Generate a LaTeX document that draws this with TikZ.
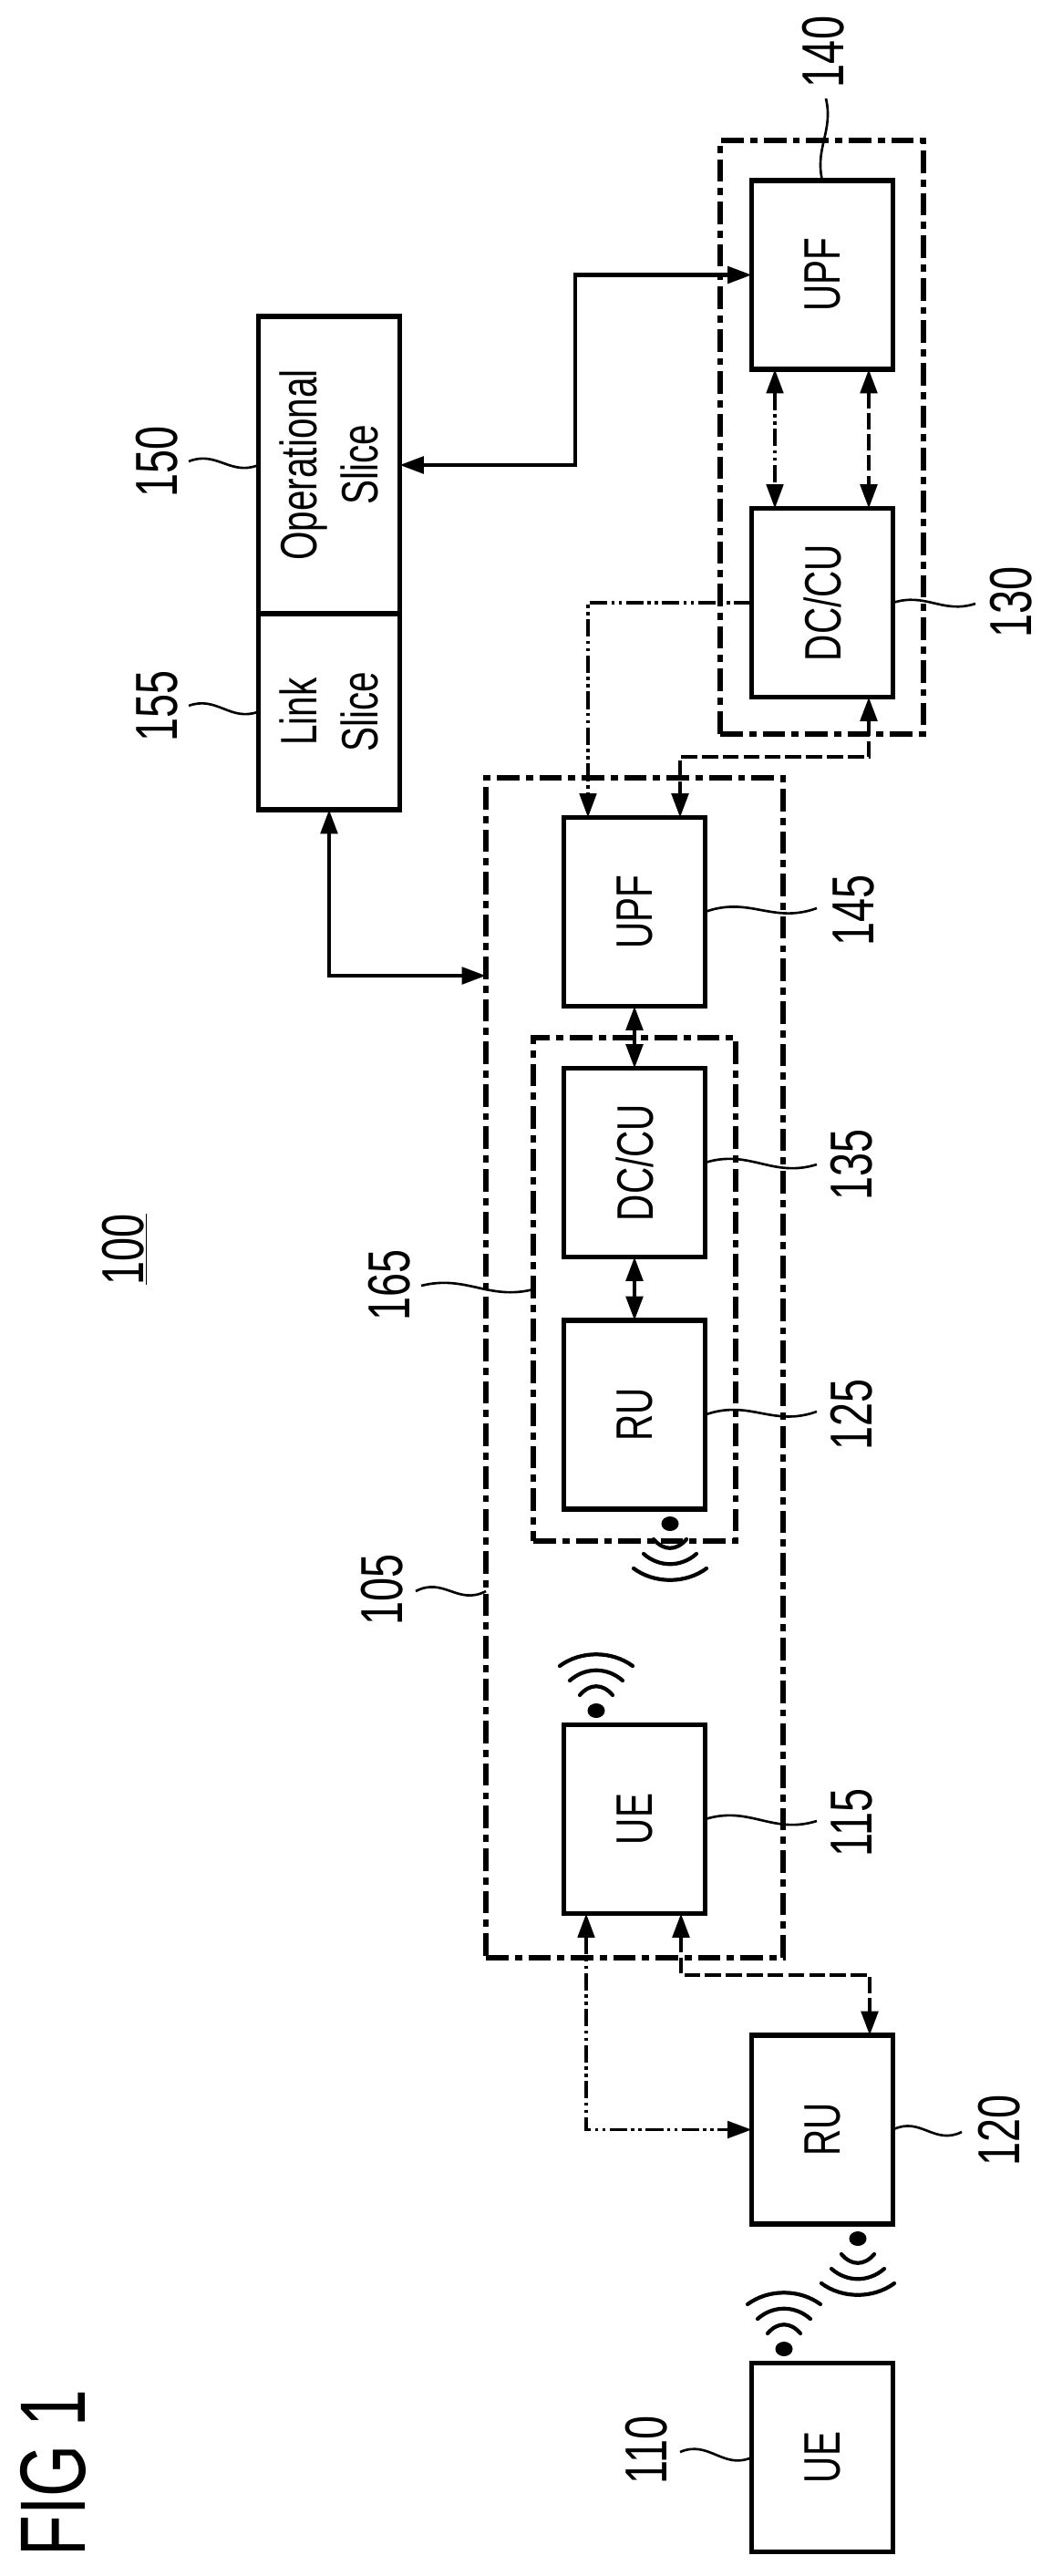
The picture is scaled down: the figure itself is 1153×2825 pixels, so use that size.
\documentclass[tikz,border=0pt]{standalone}
\usepackage{fontspec}
\setmainfont[FakeStretch=0.72]{Liberation Sans}
\usetikzlibrary{arrows.meta, calc}

\tikzset{
    >={Triangle[length=15pt,width=10.5pt]},
    unitbox/.style={draw, line width=3.1pt, outer sep=0pt, fill=white, minimum width=3.1cm, minimum height=4.14cm},
    unittext/.style={rotate=90, align=center, font=\fontsize{32}{38}\selectfont},
    reflabel/.style={rotate=90, inner sep=0pt, font=\fontsize{37}{44}\selectfont},
    groupbox/.style={draw, line width=3.2pt, outer sep=0pt, dash pattern=on 14pt off 4pt on 4.5pt off 4pt},
    linkline/.style={<->, line width=2.3pt},
    dashline/.style={<->, line width=2.3pt, dash pattern=on 10pt off 3pt},
    dotline/.style={line width=2pt, dash pattern=on 11pt off 2.5pt on 2pt off 2.5pt on 2pt off 2.5pt},
    leadline/.style={line width=1.5pt},
    radiosign/.pic={
        \fill (0,0) ellipse (9.5 and 8);
        \draw[line width=2.4pt, line cap=round] (-18,-17) .. controls (-7,-30) and (7,-30) .. (18,-17);
        \draw[line width=2.4pt, line cap=round] (-29,-33) .. controls (-12,-48) and (12,-48) .. (29,-33);
        \draw[line width=2.4pt, line cap=round] (-40,-49) .. controls (-17,-66) and (17,-66) .. (40,-49);
    }
}
\newcommand{\squig}[3]{\draw[leadline] (#1) .. controls ($(#1)!.4!(#2)+#3$) and ($(#1)!.6!(#2)-#3$) .. (#2);}

\begin{document}
\begin{tikzpicture}[x=0.02cm, y=-0.02cm]
    \useasboundingbox (0,0) rectangle (1153,2825);

    % Dashed groups
    \node[groupbox, minimum width=6.52cm, minimum height=25.88cm] (box105) at (696,1500) {};
    \node[groupbox, minimum width=4.44cm, minimum height=11.04cm] (box165) at (696,1414) {};
    \node[groupbox, minimum width=4.46cm, minimum height=13.02cm] (box130) at (901.5,479.5) {};

    % Units
    \node[unitbox, label={[unittext]center:UE}] (ue110) at (902,2695) {};
    \node[unitbox, label={[unittext]center:RU}] (ru120) at (902,2335.5) {};
    \node[unitbox, label={[unittext]center:UE}] (ue115) at (696,1995) {};
    \node[unitbox, label={[unittext]center:RU}] (ru125) at (696,1551.5) {};
    \node[unitbox, label={[unittext]center:DC/CU}] (dccu135) at (696,1275) {};
    \node[unitbox, label={[unittext]center:UPF}] (upf145) at (696,1000) {};
    \node[unitbox, label={[unittext]center:DC/CU}] (dccu130) at (902,661) {};
    \node[unitbox, label={[unittext]center:UPF}] (upf140) at (902,301.5) {};

    % Slices
    \node[unitbox, minimum height=6.52cm, label={[unittext]center:Operational\\Slice}] (op150) at (361,510) {};
    \node[unitbox, minimum height=4.3cm, label={[unittext]center:Link\\Slice}] (link155) at (361,780.5) {};

    % Radio signs
    \pic (sign110) at (860,2576) {radiosign};
    \pic[rotate=180] (sign120) at (941,2455) {radiosign};
    \pic (sign115) at (654,1876) {radiosign};
    \pic[rotate=180] (sign125) at (735,1671) {radiosign};

    % Helper points
    \coordinate (dotUe) at (643,2166);
    \coordinate (dashUe) at (747,2166);
    \coordinate (dashRu) at (954,2166);
    \coordinate (opBend) at (631,400);
    \coordinate (linkEnd) at (533,1070);
    \coordinate (dotUpf) at (645,661);
    \coordinate (dashUpf) at (746,830);
    \coordinate (dashDc) at (953,830);
    \coordinate (dotPair) at (850,480);

    % Connectors
    \draw[dotline, <->] (ue115.south -| dotUe) |- (ru120.west);
    \draw[dashline] (ue115.south -| dashUe) -- (dashUe) -- (dashRu) -- (ru120.north -| dashRu);
    \draw[linkline] (upf145.south) -- (dccu135.north);
    \draw[linkline] (dccu135.south) -- (ru125.north);
    \draw[linkline] (op150.east) -| (opBend) |- (upf140.west);
    \draw[linkline] (link155.south) |- (linkEnd);
    \draw[dotline, ->] (dccu130.west) -| (upf145.north -| dotUpf);
    \draw[dashline] (dccu130.south -| dashDc) -- (dashDc) -- (dashUpf) -- (upf145.north -| dashUpf);
    \draw[dotline, <->] (upf140.south -| dotPair) -- (dccu130.north -| dotPair);
    \draw[dashline] (upf140.south -| dashDc) -- (dccu130.north -| dashDc);

    % Reference numbers
    \node[reflabel] (n100) at (137,1370) {\underline{100}};
    \node[reflabel] (n105) at (419,1743) {105};
    \node[reflabel] (n110) at (709,2687) {110};
    \node[reflabel] (n115) at (934,1999) {115};
    \node[reflabel] (n120) at (1096,2336) {120};
    \node[reflabel] (n125) at (934,1551) {125};
    \node[reflabel] (n130) at (1109,660) {130};
    \node[reflabel] (n135) at (934,1277) {135};
    \node[reflabel] (n140) at (903,57) {140};
    \node[reflabel] (n145) at (936,998) {145};
    \node[reflabel] (n150) at (172,506) {150};
    \node[reflabel] (n155) at (172,774) {155};
    \node[reflabel] (n165) at (427,1409) {165};
    \node[rotate=90, inner sep=0pt, font=\fontsize{58}{62}\selectfont] (figname) at (58,2712) {FIG 1};

    % Lead lines
    \coordinate (lead105) at (456,1745);
    \coordinate (lead110) at (746,2689);
    \coordinate (lead115) at (896,1997);
    \coordinate (lead120) at (1055,2338);
    \coordinate (lead125) at (896,1548);
    \coordinate (lead130) at (1070,662);
    \coordinate (lead135) at (896,1277);
    \coordinate (lead140) at (906,108);
    \coordinate (lead145) at (896,996);
    \coordinate (lead150) at (207,506);
    \coordinate (lead155) at (207,774);
    \coordinate (lead165) at (462,1410);
    \coordinate (start105) at (box105.west |- lead105);
    \squig{start105}{lead105}{(0,16)}
    \squig{ue110.west}{lead110}{(0,16)}
    \squig{ue115.east}{lead115}{(0,-16)}
    \squig{ru120.east}{lead120}{(0,-16)}
    \squig{ru125.east}{lead125}{(0,-16)}
    \squig{dccu130.east}{lead130}{(0,-12)}
    \squig{dccu135.east}{lead135}{(0,-16)}
    \squig{upf140.north}{lead140}{(-10,0)}
    \squig{upf145.east}{lead145}{(0,-16)}
    \squig{op150.west}{lead150}{(0,14)}
    \squig{link155.west}{lead155}{(0,14)}
    \squig{box165.west}{lead165}{(0,14)}
\end{tikzpicture}
\end{document}
